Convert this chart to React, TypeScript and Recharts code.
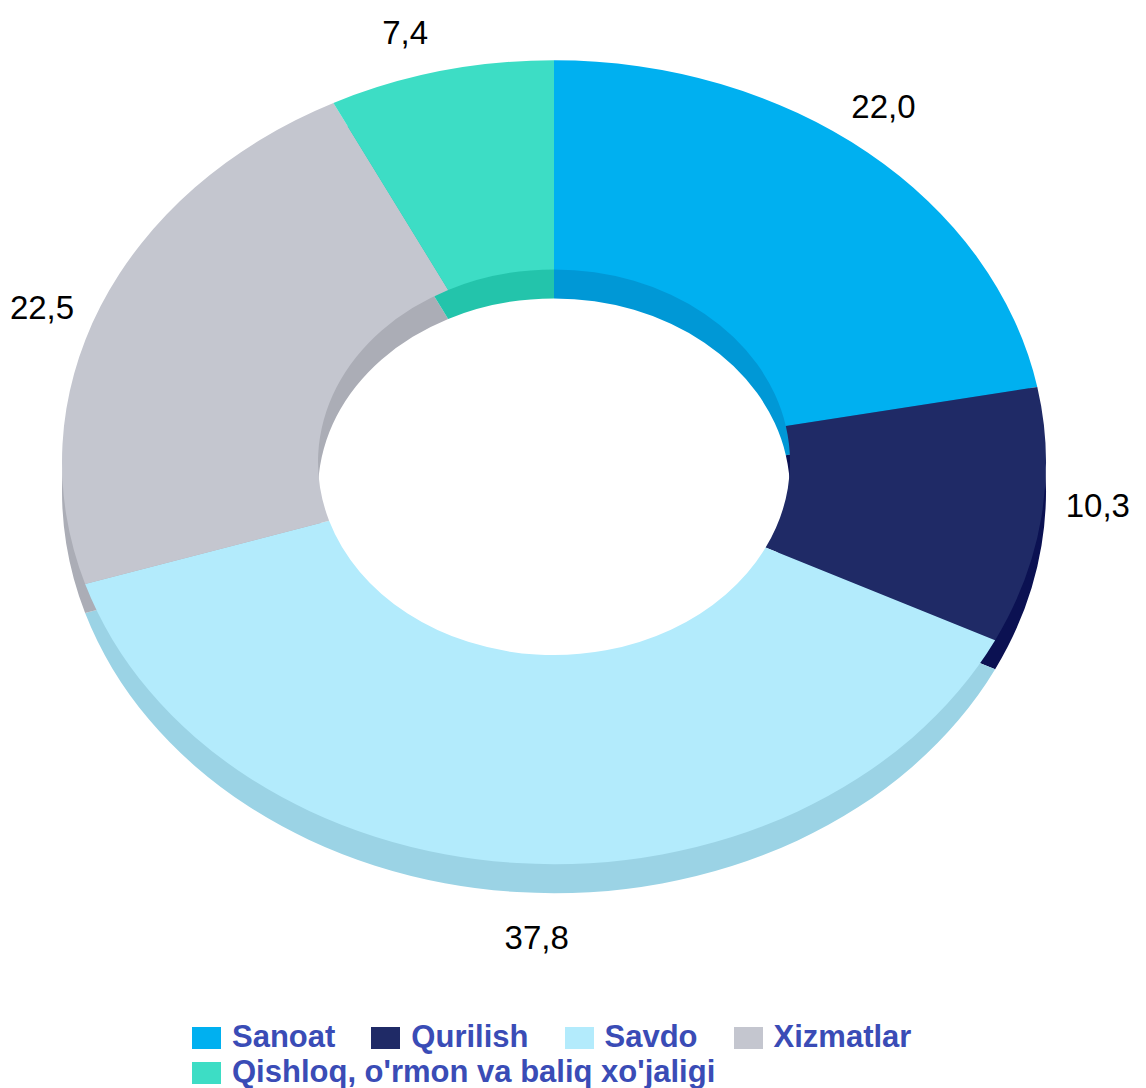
import React from 'react';
import { PieChart, Pie, Cell } from 'recharts';

const categories = ['Sanoat', 'Qurilish', 'Savdo', 'Xizmatlar', "Qishloq, o'rmon va baliq xo'jaligi"];
const shares = [22.0, 10.3, 37.8, 22.5, 7.4];
const topColors = ['#00B0F0', '#1F2A66', '#B3EBFC', '#C4C6CF', '#3DDDC5'];
const sideColors = ['#0098D6', '#0B1152', '#9BD3E5', '#ABADB6', '#23C4AB'];

const data = categories.map((name, i) => ({ name, value: shares[i] }));

// flattening of the disc (pie seen from above at an angle)
const TILT = 0.817;
const CX = 541;
const CY = 551;
const R_OUT = 492;
const R_IN = 236;
const DEPTH = 35.5; // thickness, in unscaled units
const LABEL_FONT = 33;

const fmt = (v: number) => v.toFixed(1).replace('.', ',');

const renderLabel = (props: any) => {
  const { cx, cy, midAngle, value } = props;
  const a = ((midAngle + 2.5) * Math.PI) / 180;
  const cos = Math.cos(a);
  const sin = Math.sin(a);
  const rho = 1.11;
  // offsets in screen pixels
  const dx = R_OUT * rho * cos;
  let dy = -R_OUT * TILT * rho * sin;
  if (sin < 0) dy += DEPTH * TILT * -sin;
  const x = cx + dx;
  const y = cy + dy / TILT;
  return (
    <text
      transform={`translate(${x},${y}) scale(1,${1 / TILT})`}
      textAnchor="middle"
      dominantBaseline="central"
      fill="#000"
      fontSize={LABEL_FONT}
      fontFamily="'Liberation Sans', Arial, sans-serif"
    >
      {fmt(value)}
    </text>
  );
};

const Legend = () => (
  <div
    style={{
      position: 'absolute',
      left: 184,
      top: 1011,
      width: 730,
      display: 'flex',
      flexWrap: 'wrap',
      columnGap: 36,
      fontFamily: "'Liberation Sans', Arial, sans-serif",
      fontWeight: 'bold',
      fontSize: 31,
      lineHeight: '35px',
      color: '#3A4CB6',
    }}
  >
    {categories.map((c, i) => (
      <div key={c} style={{ display: 'flex', alignItems: 'flex-start', whiteSpace: 'nowrap' }}>
        <span
          style={{
            display: 'inline-block',
            width: 29,
            height: 22,
            marginTop: 8,
            marginRight: 11,
            background: topColors[i],
          }}
        />
        <span>{c}</span>
      </div>
    ))}
  </div>
);

export default function App() {
  return (
    <div style={{ position: 'relative', width: 1130, height: 1080, background: '#fff', overflow: 'hidden' }}>
      <div
        style={{
          position: 'absolute',
          left: 0,
          top: 0,
          transform: `scaleY(${TILT})`,
          transformOrigin: '0 0',
        }}
      >
        <PieChart width={1130} height={1240}>
          <Pie
            data={data}
            dataKey="value"
            nameKey="name"
            cx={CX}
            cy={CY + DEPTH}
            innerRadius={R_IN}
            outerRadius={R_OUT}
            startAngle={90}
            endAngle={-270}
            stroke="none"
            label={false}
            labelLine={false}
            isAnimationActive={false}
          >
            {data.map((d, i) => (
              <Cell key={d.name} fill={sideColors[i]} />
            ))}
          </Pie>
          <Pie
            data={data}
            dataKey="value"
            nameKey="name"
            cx={CX}
            cy={CY}
            innerRadius={R_IN}
            outerRadius={R_OUT}
            startAngle={90}
            endAngle={-270}
            stroke="none"
            label={renderLabel}
            labelLine={false}
            isAnimationActive={false}
          >
            {data.map((d, i) => (
              <Cell key={d.name} fill={topColors[i]} />
            ))}
          </Pie>
        </PieChart>
      </div>
      <Legend />
    </div>
  );
}
